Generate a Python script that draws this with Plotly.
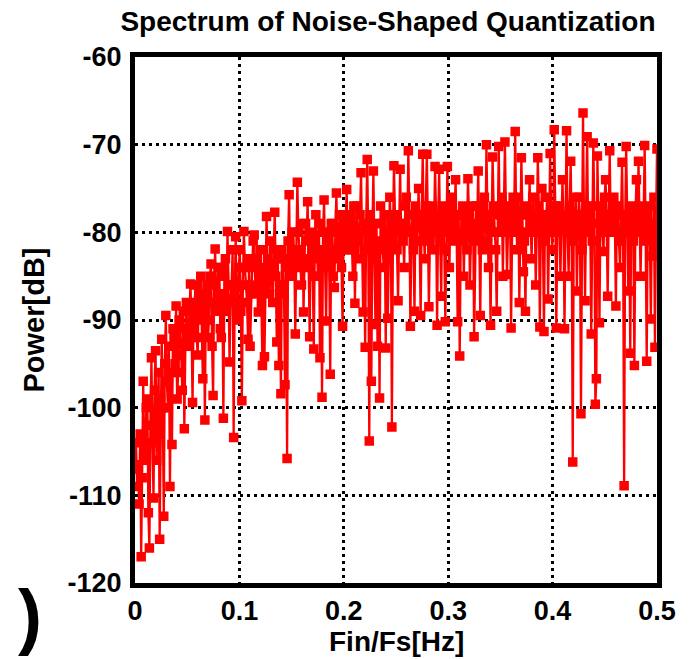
import numpy as np
import plotly.graph_objects as go

# Power spectrum values [dB], in frequency order (0 .. 0.5)
power_seg0 = [-106.5, -104, -109, -107, -111, -103, -117, -108, -97, -106, -105, -100, -99, -112,
              -116, -102, -94.3, -104, -110.3, -98, -93.5, -106, -101, -96, -115, -99, -92.2, -100,
              -112.4, -95, -89.5, -97, -100, -93, -109, -96, -104.2, -91, -92, -95, -88.4, -99,
              -96, -90, -91, -94, -98, -89, -102.4, -93, -88, -92]
power_seg1 = [-93, -89, -85.9, -91, -99.4, -90, -88, -86, -92, -94, -87, -89, -85, -90, -96.7,
              -88, -101.4, -87, -86, -92, -90, -85, -83.6, -93, -98.6, -86, -81.9, -88, -89,
              -84, -84, -91, -92, -87, -101.2, -85, -83, -89, -79.9, -86, -94.8, -88, -86, -82,
              -103.4, -87, -80.5, -90, -88, -84, -82, -89]
power_seg2 = [-99.2, -86, -79.9, -84, -86, -88, -92.2, -83, -93, -87, -84, -81, -80.3, -86, -87,
              -83, -89.1, -85, -82, -88, -95.2, -84, -94.2, -86, -78.2, -83, -85, -87, -81, -84,
              -88, -82, -77.7, -85, -92.5, -83, -95.2, -86, -98.4, -82, -83, -87, -97.4, -84,
              -105.8, -81, -75.7, -85, -84, -80, -80, -83]
power_seg3 = [-91.6, -82, -74.3, -80, -82, -84, -86, -79, -89.1, -83, -79, -81, -76.5, -84, -91.9,
              -80, -82, -85, -93.3, -81, -78, -83, -85, -79, -94.3, -82, -98.8, -80, -76.3, -84,
              -90.1, -81, -80, -83, -96.2, -79, -79, -85, -86.3, -80, -75.5, -82, -83, -78, -78,
              -84, -90.7, -81, -80, -79, -75.1, -82]
power_seg4 = [-82, -79, -78, -81, -85, -77, -88.1, -80, -77, -83, -81, -78, -73.2, -80, -89.1,
              -82, -93.1, -79, -71.7, -81, -103.8, -78, -97, -80, -73, -83, -90.5, -79, -93, -81,
              -98.9, -77, -79, -82, -84, -78, -93.2, -80, -89.8, -83, -76, -79, -102.2, -81,
              -72.4, -78, -80, -82, -87.8, -79, -72.8, -80]
power_seg5 = [-79, -81, -84, -77, -76, -80, -70.7, -78, -90.7, -80, -78, -82, -89, -77, -81, -79,
              -75, -81, -89.5, -78, -71.1, -80, -83, -77, -71.1, -79, -88.5, -81, -77, -78, -82,
              -80, -72.5, -78, -90.6, -79, -72.8, -81, -87.3, -77, -79, -82, -90.2, -78, -72.5,
              -80, -84, -77, -76, -79, -81, -78]
power_seg6 = [-74, -80, -90.2, -78, -94.1, -81, -78, -77, -85, -79, -80, -82, -73.9, -78, -86,
              -80, -79, -77, -91.9, -81, -77, -79, -73, -80, -89.5, -78, -82, -77, -76, -81, -70,
              -78, -84, -79, -90.6, -80, -71.4, -77, -80, -82, -89, -78, -70.2, -80, -78, -76,
              -85, -79, -69.7, -78, -84.8, -80]
power_seg7 = [-79, -77, -90.9, -80, -76, -78, -68.5, -79, -82, -76, -88, -80, -71.5, -78, -84.5,
              -81, -89, -77, -78, -80, -74, -79, -83, -76, -80, -78, -86, -80, -71.5, -77, -90.8,
              -79, -75, -81, -91.3, -78, -79, -76, -87.6, -80, -71, -78, -82, -79, -68.3, -77,
              -90.9, -80, -77, -78, -85, -79]
power_seg8 = [-74, -79, -91, -78, -68.4, -80, -85, -77, -71.9, -81, -106.2, -79, -78, -76, -86.7,
              -80, -76, -78, -100.7, -82, -66.4, -79, -87.8, -77, -69.1, -80, -80, -78, -91.6,
              -81, -69.8, -77, -99.6, -96.7, -71.3, -79, -90.3, -78, -77, -80, -82.2, -76, -74,
              -79, -87.3, -78, -70.7, -80, -80, -77]
power_seg9 = [-76, -79, -88.4, -77, -78, -81, -84, -78, -72, -80, -108.9, -79, -70.2, -78, -86.7,
              -80, -93.8, -77, -79, -81, -95.2, -78, -74, -80, -71.9, -77, -85, -79, -80, -78,
              -70.1, -81, -94.7, -78, -77, -80, -89.9, -79, -82.7, -76, -93.1, -80, -70.5]

power_db = (power_seg0 + power_seg1 + power_seg2 + power_seg3 + power_seg4 +
            power_seg5 + power_seg6 + power_seg7 + power_seg8 + power_seg9)

# normalized frequency bins Fin/Fs from 0 to 0.5
freq = np.linspace(0, 0.5, len(power_db))

x_ticks = [0, 0.1, 0.2, 0.3, 0.4, 0.5]
x_tick_text = ["0", "0.1", "0.2", "0.3", "0.4", "0.5"]
y_ticks = [-120, -110, -100, -90, -80, -70, -60]
y_tick_text = ["-120", "-110", "-100", "-90", "-80", "-70", "-60"]

title_text = "Spectrum of Noise-Shaped Quantization"
x_title = "Fin/Fs[Hz]"
y_title = "Power[dB]"

FONT = "Liberation Sans, Arial, sans-serif"
W, H = 697, 659
L, R, T, B = 135, 40, 57, 76
PW, PH = W - L - R, H - T - B

fig = go.Figure()
fig.add_trace(go.Scatter(
    x=freq, y=power_db, mode="lines+markers",
    line=dict(color="#ff0000", width=2.3),
    marker=dict(symbol="square", size=7.5, color="#ff0000",
                line=dict(color="#ff0000", width=2)),
    showlegend=False,
))

axis_common = dict(
    showline=True, linewidth=5, linecolor="black", mirror=True,
    showgrid=True, gridcolor="black", gridwidth=3, griddash="3px,4px",
    zeroline=False, ticks="",
    tickfont=dict(family=FONT, size=27, color="black", weight=700),
)

fig.update_layout(
    width=W, height=H,
    margin=dict(l=L, r=R, t=T, b=B),
    paper_bgcolor="white", plot_bgcolor="white",
    title=dict(text=title_text, x=388 / W, xanchor="center", xref="container",
               y=1 - 21 / H, yanchor="middle", yref="container",
               font=dict(family=FONT, size=28, color="black", weight=700)),
    xaxis=dict(range=[0, 0.5], tickvals=x_ticks, ticktext=x_tick_text,
               ticklabelstandoff=0, **axis_common),
    yaxis=dict(range=[-120, -60], tickvals=y_ticks, ticktext=y_tick_text,
               ticklabelstandoff=3,
               title=dict(text=y_title, standoff=16,
                          font=dict(family=FONT, size=29, color="black", weight=700)),
               **axis_common),
    annotations=[
        dict(text=x_title, x=0.5, y=-(641 - (T + PH)) / PH, xref="paper", yref="paper",
             xanchor="center", yanchor="middle", showarrow=False,
             font=dict(family=FONT, size=28, color="black", weight=700)),
        dict(text=")", x=(30 - L) / PW, y=1 - (616 - T) / PH, xref="paper", yref="paper",
             xanchor="center", yanchor="middle", showarrow=False,
             font=dict(family=FONT, size=72, color="black", weight=700)),
    ],
)

fig.write_html("out.html", config={"displayModeBar": False},
               post_script="document.body.style.margin='0';")
